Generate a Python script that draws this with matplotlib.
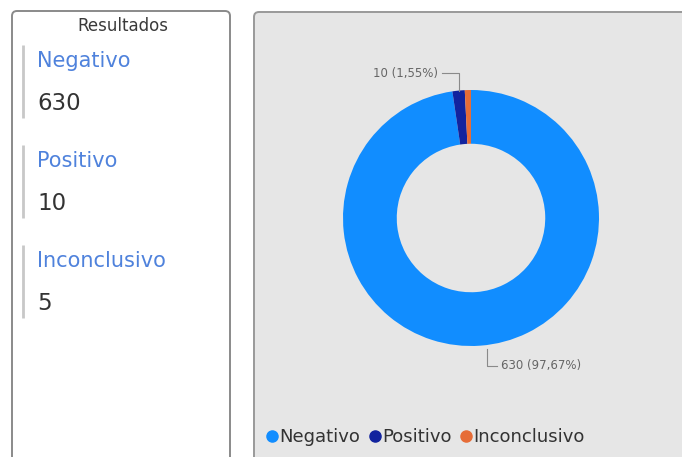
import numpy as np
import matplotlib.pyplot as plt
from matplotlib.patches import FancyBboxPatch
from matplotlib.lines import Line2D

# data
categories = ['Negativo', 'Positivo', 'Inconclusivo']
values = [630, 10, 5]
colors = ['#118DFF', '#12239E', '#E66C37']
card_title = 'Resultados'

total = sum(values)
W, H = 682, 457

fig = plt.figure(figsize=(W / 100, H / 100), dpi=100)
fig.patch.set_facecolor('white')

# background canvas in pixel coordinates
bg = fig.add_axes([0, 0, 1, 1])
bg.set_xlim(0, W)
bg.set_ylim(H, 0)
bg.axis('off')

# left card
bg.add_patch(FancyBboxPatch((12, 11), 218, 470, boxstyle='round,pad=0,rounding_size=5',
                            facecolor='white', edgecolor='#8a8a8a', lw=1.4))
bg.text(123, 26, card_title, ha='center', va='center', fontsize=12, color='#3a3a3a')
for i, (cat, val) in enumerate(zip(categories, values)):
    y0 = 45 + 100 * i
    bg.plot([23, 23], [y0, y0 + 73], color='#c8c8c8', lw=2, solid_capstyle='butt')
    bg.text(37, y0 + 16, cat, ha='left', va='center', fontsize=15, color='#4f82dc')
    bg.text(37, y0 + 58, f'{val}', ha='left', va='center', fontsize=16.5, color='#333333')

# right panel
bg.add_patch(FancyBboxPatch((254, 12), 460, 470, boxstyle='round,pad=0,rounding_size=5',
                            facecolor='#e6e6e6', edgecolor='#999999', lw=1.4))

# donut
cx, cy, r = 471, 218, 128
ax = fig.add_axes([(cx - r) / W, (H - cy - r) / H, 2 * r / W, 2 * r / H])
ax.axis('off')
wedges, _ = ax.pie(values, colors=colors, startangle=90, counterclock=False, radius=1,
                   wedgeprops=dict(width=0.42, edgecolor='none'))
ax.set_xlim(-1, 1)
ax.set_ylim(-1, 1)

def fmt(v):
    return f'{v} ({v / total * 100:.2f}%)'.replace('.', ',')

# labels with leader lines
for idx, up in [(1, True), (0, False)]:
    w = wedges[idx]
    ang = np.deg2rad((w.theta1 + w.theta2) / 2)
    x0, y0 = np.cos(ang), np.sin(ang)
    ly = 1.13 if up else -1.155
    if up:
        x1 = x0 - 0.13
        ax.plot([x0, x0, x1], [y0, ly, ly], color='#8a8a8a', lw=0.8, clip_on=False)
        ax.text(x1 - 0.03, ly, fmt(values[idx]), ha='right', va='center',
                fontsize=8.5, color='#666666', clip_on=False)
    else:
        x0 = x0 + 0.05
        x1 = x0 + 0.08
        ax.plot([x0, x0, x1], [-1.02, ly, ly], color='#8a8a8a', lw=0.8, clip_on=False)
        ax.text(x1 + 0.03, ly, fmt(values[idx]), ha='left', va='center',
                fontsize=8.5, color='#666666', clip_on=False)

handles = [Line2D([], [], marker='o', linestyle='', markersize=8, color=c) for c in colors]
fig.legend(handles, categories, loc='center left', bbox_to_anchor=(263 / W, 1 - 437 / H),
           bbox_transform=fig.transFigure, ncol=3, frameon=False, fontsize=13,
           handletextpad=-0.1, columnspacing=0.3, handlelength=1.0, labelcolor='#333333',
           borderaxespad=0, borderpad=0)

fig.savefig('out.png', dpi=100, facecolor='white')
